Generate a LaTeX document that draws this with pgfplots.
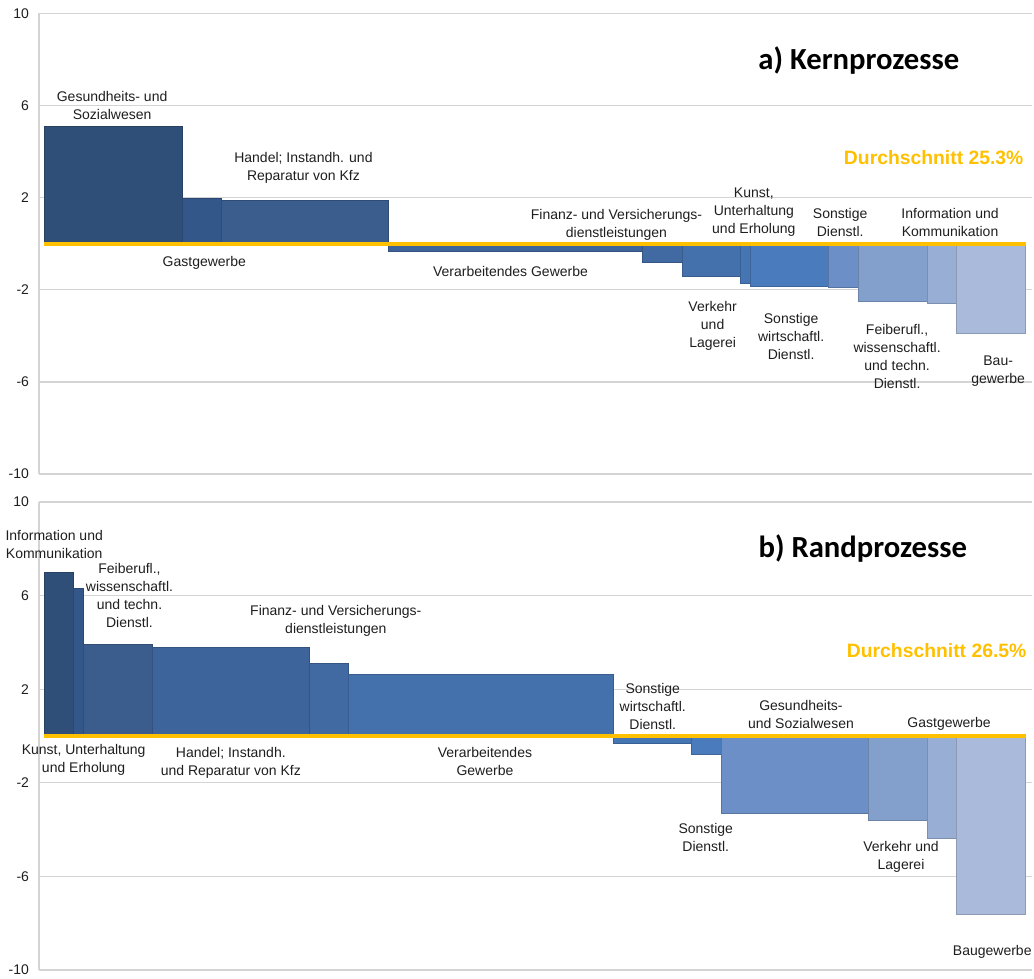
\documentclass[border=0pt]{standalone}
\usepackage{pgfplots}
\pgfplotsset{compat=1.18}
\usepackage{fontspec}
\setmainfont{Liberation Sans}
\newfontfamily\titlefont{Carlito}

% bar colours by rank, dark -> light
\definecolor{c1}{HTML}{2F4F78}
\definecolor{c2}{HTML}{34578A}
\definecolor{c3}{HTML}{3A5D8E}
\definecolor{c4}{HTML}{3E649C}
\definecolor{c5}{HTML}{4169A2}
\definecolor{c6}{HTML}{4470AC}
\definecolor{c7}{HTML}{4675B3}
\definecolor{c8}{HTML}{4A7BBC}
\definecolor{c9}{HTML}{6B8FC6}
\definecolor{c10}{HTML}{83A0CD}
\definecolor{c11}{HTML}{99AED4}
\definecolor{c12}{HTML}{AABADA}
\definecolor{avgyellow}{HTML}{FFC000}
\definecolor{gridgray}{HTML}{D4D4D4}
\definecolor{labeltext}{HTML}{1E1E1E}

\pgfplotsset{
  panel/.style={
    scale only axis,
    width=744.75pt,
    xmin=-0.55, xmax=100.65,
    ymin=-10, ymax=10,
    ytick={-10,-6,-2,2,6,10},
    xtick=\empty,
    axis x line=none,
    axis y line*=left,
    y axis line style={gridgray, line width=1pt},
    ymajorgrids,
    grid style={gridgray, line width=1pt},
    major tick length=0pt,
    /pgf/number format/assume math mode=true,
    yticklabel style={font=\fontsize{10.5}{12}\selectfont, text=labeltext, xshift=-4pt},
    clip=false,
  },
  bar/.style={ybar interval, fill=#1, draw=#1!82!black, line width=0.5pt},
  avg/.style={avgyellow, line width=3.2pt},
}
\tikzset{
  lbl/.style={align=center, inner sep=0pt, text=labeltext,
    font=\fontsize{10.5}{13.5}\selectfont},
  ttl/.style={inner sep=0pt, font=\titlefont\bfseries\fontsize{23}{27}\selectfont},
  avglbl/.style={anchor=east, inner sep=0pt, text=avgyellow,
    font=\bfseries\fontsize{14.5}{17}\selectfont},
}

\begin{document}
\begin{tikzpicture}

% a) Kernprozesse
\begin{axis}[panel, height=345.5pt, at={(29.25pt,378pt)}, anchor=south west]
  \addplot[bar=c1]  coordinates {(0,5.1)     (14.07,5.1)};
  \addplot[bar=c2]  coordinates {(14.07,1.97) (18.04,1.97)};
  \addplot[bar=c3]  coordinates {(18.04,1.9)  (35.07,1.9)};
  \addplot[bar=c4]  coordinates {(35.07,-0.32) (60.96,-0.32)};
  \addplot[bar=c5]  coordinates {(60.96,-0.8)  (65.04,-0.8)};
  \addplot[bar=c6]  coordinates {(65.04,-1.43) (70.95,-1.43)};
  \addplot[bar=c7]  coordinates {(70.95,-1.72) (71.97,-1.72)};
  \addplot[bar=c8]  coordinates {(71.97,-1.86) (79.92,-1.86)};
  \addplot[bar=c9]  coordinates {(79.92,-1.91) (82.98,-1.91)};
  \addplot[bar=c10] coordinates {(82.98,-2.52) (90.01,-2.52)};
  \addplot[bar=c11] coordinates {(90.01,-2.59) (92.97,-2.59)};
  \addplot[bar=c12] coordinates {(92.97,-3.89) (100,-3.89)};
  \addplot[avg] coordinates {(0,0) (100,0)};

  \node[lbl] at (axis cs:6.9,6.0) {Gesundheits- und\\Sozialwesen};
  \node[lbl] at (axis cs:26.4,3.3) {Handel; Instandh. und\\Reparatur von Kfz};
  \node[lbl] at (axis cs:16.3,-0.83) {Gastgewerbe};
  \node[lbl] at (axis cs:47.5,-1.2) {Verarbeitendes Gewerbe};
  \node[lbl] at (axis cs:58.3,0.83) {Finanz- und Versicherungs-\\dienstleistungen};
  \node[lbl] at (axis cs:72.3,1.37) {Kunst,\\Unterhaltung\\und Erholung};
  \node[lbl] at (axis cs:81.1,0.9) {Sonstige\\Dienstl.};
  \node[lbl] at (axis cs:92.3,0.9) {Information und\\Kommunikation};
  \node[lbl] at (axis cs:68.1,-3.57) {Verkehr\\und\\Lagerei};
  \node[lbl] at (axis cs:76.1,-4.05) {Sonstige\\wirtschaftl.\\Dienstl.};
  \node[lbl] at (axis cs:86.9,-4.9) {Feiberufl.,\\wissenschaftl.\\und techn.\\Dienstl.};
  \node[lbl] at (axis cs:97.2,-5.55) {Bau-\\gewerbe};
  \node[ttl] at (axis cs:83.0,7.97) {a) Kernprozesse};
  \node[avglbl] at (axis cs:99.8,3.72) {Durchschnitt 25.3\%};
\end{axis}

% b) Randprozesse
\begin{axis}[panel, height=351pt, at={(29.25pt,6pt)}, anchor=south west]
  \addplot[bar=c1]  coordinates {(0,7.0)     (2.96,7.0)};
  \addplot[bar=c2]  coordinates {(2.96,6.3)  (3.98,6.3)};
  \addplot[bar=c3]  coordinates {(3.98,3.93) (11.01,3.93)};
  \addplot[bar=c4]  coordinates {(11.01,3.8) (27.01,3.8)};
  \addplot[bar=c5]  coordinates {(27.01,3.1) (30.99,3.1)};
  \addplot[bar=c6]  coordinates {(30.99,2.65) (58.0,2.65)};
  \addplot[bar=c7]  coordinates {(58.0,-0.3)  (65.95,-0.3)};
  \addplot[bar=c8]  coordinates {(65.95,-0.77) (69.01,-0.77)};
  \addplot[bar=c9]  coordinates {(69.01,-3.3) (84.0,-3.3)};
  \addplot[bar=c10] coordinates {(84.0,-3.6)  (90.01,-3.6)};
  \addplot[bar=c11] coordinates {(90.01,-4.37) (92.97,-4.37)};
  \addplot[bar=c12] coordinates {(92.97,-7.6) (100,-7.6)};
  \addplot[avg] coordinates {(0,0) (100,0)};

  \node[lbl] at (axis cs:1.0,8.18) {Information und\\Kommunikation};
  \node[lbl] at (axis cs:8.67,6.0) {Feiberufl.,\\wissenschaftl.\\und techn.\\Dienstl.};
  \node[lbl] at (axis cs:29.7,4.94) {Finanz- und Versicherungs-\\dienstleistungen};
  \node[lbl] at (axis cs:4.0,-1.03) {Kunst, Unterhaltung\\und Erholung};
  \node[lbl] at (axis cs:19.0,-1.15) {Handel; Instandh.\\und Reparatur von Kfz};
  \node[lbl] at (axis cs:44.9,-1.1) {Verarbeitendes\\Gewerbe};
  \node[lbl] at (axis cs:62.0,1.28) {Sonstige\\wirtschaftl.\\Dienstl.};
  \node[lbl] at (axis cs:77.1,0.9) {Gesundheits-\\und Sozialwesen};
  \node[lbl] at (axis cs:92.2,0.51) {Gastgewerbe};
  \node[lbl] at (axis cs:67.4,-4.32) {Sonstige\\Dienstl.};
  \node[lbl] at (axis cs:87.3,-5.16) {Verkehr und\\Lagerei};
  \node[lbl] at (axis cs:96.6,-9.23) {Baugewerbe};
  \node[ttl] at (axis cs:83.4,8.03) {b) Randprozesse};
  \node[avglbl] at (axis cs:100.1,3.63) {Durchschnitt 26.5\%};
\end{axis}

\pgfresetboundingbox
\useasboundingbox (0,0) rectangle (775.5pt,733.5pt);
\end{tikzpicture}
\end{document}
